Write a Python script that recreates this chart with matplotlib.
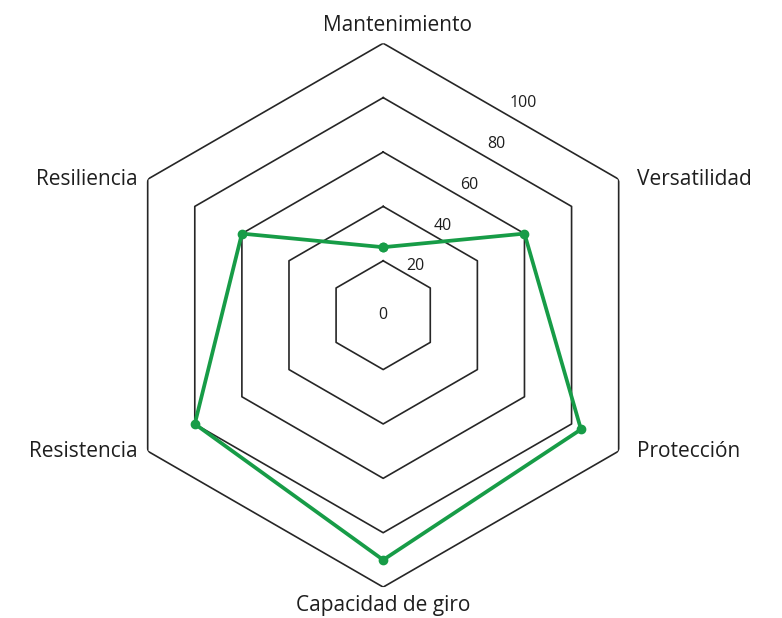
import numpy as np
import matplotlib.pyplot as plt

categories = ["Mantenimiento", "Versatilidad", "Protección",
              "Capacidad de giro", "Resistencia", "Resiliencia"]
values = [25, 60, 84, 90, 80, 60]
rings = [20, 40, 60, 80, 100]
tick_labels = ["0", "20", "40", "60", "80", "100"]

plt.rcParams["font.family"] = ["Open Sans", "DejaVu Sans"]

n = len(categories)
theta = np.linspace(0, 2 * np.pi, n, endpoint=False)
theta_closed = np.append(theta, theta[0])

fig = plt.figure(figsize=(7.82, 6.18), dpi=100)
ax = fig.add_axes([0.142, 0.050, 0.696, 0.880], projection="polar")
ax.set_theta_offset(np.pi / 2)
ax.set_theta_direction(-1)
ax.set_ylim(0, 100)
ax.grid(False)
ax.spines["polar"].set_visible(False)
ax.set_xticks([])
ax.set_yticks([])
ax.patch.set_alpha(0)

# hexagon rings
for r in rings:
    ax.plot(theta_closed, [r] * (n + 1), color="#262626", lw=1.2, zorder=1)

# ring labels along the edge between the first two axes
label_angle = np.deg2rad(33.5)
for v, lab in zip([0] + rings, tick_labels):
    rr = v * 0.9 + 3.5 if v else 0
    ax.text(label_angle, rr, lab, fontsize=11.5, color="#1e1e1e",
            ha="center", va="center", zorder=3)

# data polygon
vals_closed = values + values[:1]
ax.plot(theta_closed, vals_closed, color="#179c47", lw=2.7,
        marker="o", markersize=6, zorder=4, clip_on=False)

# category labels
offsets = [((10, 13), "center"), ((13, 0), "left"), ((13, 0), "left"),
           ((0, -13), "center"), ((-7, 0), "right"), ((-7, 0), "right")]
for t, cat, (off, ha) in zip(theta, categories, offsets):
    ax.annotate(cat, xy=(t, 100), xytext=off, textcoords="offset points",
                ha=ha, va="center", fontsize=15, color="#1e1e1e",
                annotation_clip=False)

fig.savefig("out.png", dpi=100, facecolor="white")
